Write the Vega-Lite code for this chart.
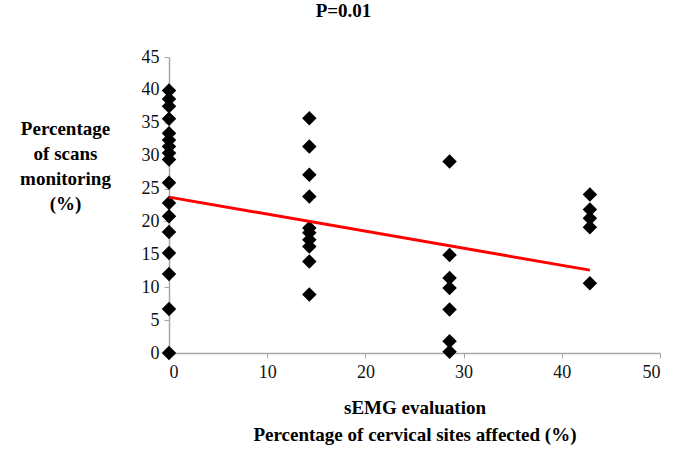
{
  "$schema": "https://vega.github.io/schema/vega-lite/v6.json",
  "width": 491,
  "height": 296,
  "autosize": {"type": "none"},
  "padding": {"left": 169, "top": 57, "right": 15, "bottom": 100},
  "background": "white",
  "title": {
    "text": "P=0.01",
    "font": "Liberation Serif",
    "fontSize": 19,
    "fontWeight": "bold",
    "color": "#000000",
    "anchor": "middle",
    "dx": -71,
    "offset": 27
  },
  "datasets": {
    "pts": [
      {"x": 0, "y": 0}, {"x": 0, "y": 6.7}, {"x": 0, "y": 12.0}, {"x": 0, "y": 15.2},
      {"x": 0, "y": 18.4}, {"x": 0, "y": 20.8}, {"x": 0, "y": 22.8}, {"x": 0, "y": 25.9},
      {"x": 0, "y": 29.4}, {"x": 0, "y": 30.4}, {"x": 0, "y": 31.4}, {"x": 0, "y": 32.4},
      {"x": 0, "y": 33.4}, {"x": 0, "y": 35.6}, {"x": 0, "y": 37.5}, {"x": 0, "y": 38.6},
      {"x": 0, "y": 39.9},
      {"x": 14.29, "y": 35.7}, {"x": 14.29, "y": 31.4}, {"x": 14.29, "y": 27.1},
      {"x": 14.29, "y": 23.8}, {"x": 14.29, "y": 19.0}, {"x": 14.29, "y": 18.3},
      {"x": 14.29, "y": 17.2}, {"x": 14.29, "y": 16.2}, {"x": 14.29, "y": 13.9},
      {"x": 14.29, "y": 8.9},
      {"x": 28.57, "y": 29.1}, {"x": 28.57, "y": 14.9}, {"x": 28.57, "y": 11.4},
      {"x": 28.57, "y": 9.9}, {"x": 28.57, "y": 6.6}, {"x": 28.57, "y": 1.8},
      {"x": 28.57, "y": 0.2},
      {"x": 42.86, "y": 24.1}, {"x": 42.86, "y": 21.8}, {"x": 42.86, "y": 20.5},
      {"x": 42.86, "y": 19.1}, {"x": 42.86, "y": 10.6}
    ],
    "fit": [
      {"x": 0, "y": 23.7},
      {"x": 42.86, "y": 12.6}
    ]
  },
  "encoding": {
    "x": {
      "field": "x",
      "type": "quantitative",
      "scale": {"domain": [0, 50], "nice": false, "zero": false},
      "axis": {
        "values": [0, 10, 20, 30, 40, 50],
        "grid": false,
        "title": ["sEMG evaluation", "Percentage of cervical sites affected (%)"],
        "titleFont": "Liberation Serif",
        "titleFontSize": 19,
        "titleFontWeight": "bold",
        "titleColor": "#000000",
        "titleLineHeight": 27,
        "titlePadding": 17,
        "labelFont": "Liberation Serif",
        "labelFontSize": 18,
        "labelColor": "#111111",
        "labelPadding": 5,
        "domainColor": "#a6a6a6",
        "domainWidth": 1.5,
        "tickColor": "#a6a6a6",
        "tickSize": 5
      }
    },
    "y": {
      "field": "y",
      "type": "quantitative",
      "scale": {"domain": [0, 45], "nice": false, "zero": false},
      "axis": {
        "values": [0, 5, 10, 15, 20, 25, 30, 35, 40, 45],
        "grid": false,
        "title": ["Percentage", "of scans", "monitoring", "(%)"],
        "titleAngle": 0,
        "titleAlign": "center",
        "titleBaseline": "top",
        "titleX": -104,
        "titleY": 62,
        "titleFont": "Liberation Serif",
        "titleFontSize": 19,
        "titleFontWeight": "bold",
        "titleColor": "#000000",
        "titleLineHeight": 25,
        "labelFont": "Liberation Serif",
        "labelFontSize": 18,
        "labelColor": "#111111",
        "labelPadding": 5,
        "domainColor": "#a6a6a6",
        "domainWidth": 1.5,
        "tickColor": "#a6a6a6",
        "tickSize": 5
      }
    }
  },
  "layer": [
    {
      "data": {"name": "pts"},
      "mark": {"type": "point", "shape": "diamond", "filled": true, "color": "#000000", "opacity": 1, "size": 210}
    },
    {
      "data": {"name": "fit"},
      "mark": {"type": "line", "color": "#ff0000", "strokeWidth": 3}
    }
  ],
  "config": {
    "view": {"stroke": null},
    "font": "Liberation Serif"
  }
}
